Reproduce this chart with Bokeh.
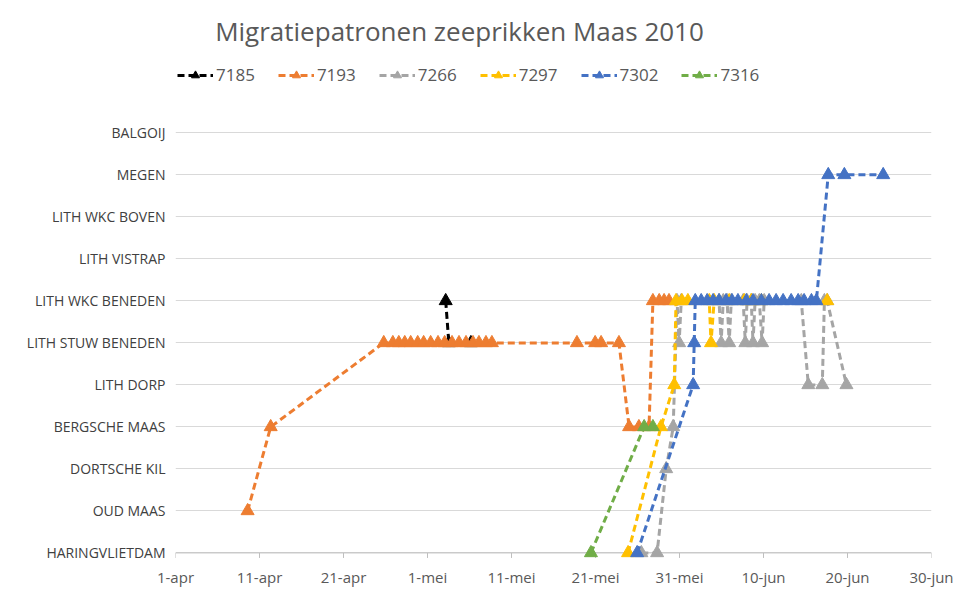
import pandas as pd
from bokeh.plotting import figure
from bokeh.models import Range1d, FixedTicker, Legend, LegendItem, Label, Span
from bokeh.embed import file_html
from bokeh.resources import INLINE

TITLE = "Migratiepatronen zeeprikken Maas 2010"
START = "2010-04-01"

locations = ["HARINGVLIETDAM", "OUD MAAS", "DORTSCHE KIL", "BERGSCHE MAAS",
             "LITH DORP", "LITH STUW BENEDEN", "LITH WKC BENEDEN", "LITH VISTRAP",
             "LITH WKC BOVEN", "MEGEN", "BALGOIJ"]
x_tick_days = [0, 10, 20, 30, 40, 50, 60, 70, 80, 90]
x_tick_labels = ["1-apr", "11-apr", "21-apr", "1-mei", "11-mei", "21-mei",
                 "31-mei", "10-jun", "20-jun", "30-jun"]

t_7185 = ["2010-05-03 04:00", "2010-05-03 13:00", "2010-05-06 04:00"]
y_7185 = [6, 5, 5]

t_7193 = ["2010-04-09 14:00", "2010-04-12 08:00",
          "2010-04-25 19:00", "2010-04-26 21:00", "2010-04-27 14:00", "2010-04-28 07:00",
          "2010-04-29 00:00", "2010-04-29 20:00", "2010-04-30 13:00", "2010-05-01 09:00",
          "2010-05-02 06:00", "2010-05-03 01:00", "2010-05-03 22:00", "2010-05-04 18:00",
          "2010-05-05 14:00", "2010-05-06 10:00", "2010-05-07 03:00", "2010-05-07 23:00",
          "2010-05-08 16:00",
          "2010-05-18 19:00", "2010-05-20 23:00", "2010-05-21 16:00", "2010-05-23 19:00",
          "2010-05-25 00:00", "2010-05-26 04:00", "2010-05-27 09:00",
          "2010-05-27 20:00", "2010-05-28 14:00", "2010-05-29 04:00", "2010-05-29 18:00"]
y_7193 = [1, 3,
          5, 5, 5, 5, 5, 5, 5, 5, 5, 5, 5, 5, 5, 5, 5, 5, 5,
          5, 5, 5, 5,
          3, 3, 3,
          6, 6, 6, 6]

t_7266 = ["2010-05-26 11:00", "2010-05-28 08:00", "2010-05-29 10:00", "2010-05-30 06:00",
          "2010-05-30 17:00", "2010-05-30 23:00", "2010-05-31 05:00",
          "2010-06-04 17:00", "2010-06-04 23:00", "2010-06-05 05:00",
          "2010-06-05 16:00", "2010-06-05 22:00", "2010-06-06 04:00",
          "2010-06-07 14:00", "2010-06-07 20:00", "2010-06-08 01:00",
          "2010-06-08 13:00", "2010-06-08 18:00", "2010-06-09 00:00",
          "2010-06-09 12:00", "2010-06-09 20:00", "2010-06-10 02:00",
          "2010-06-14 12:00", "2010-06-15 08:00", "2010-06-17 00:00",
          "2010-06-17 06:00", "2010-06-17 14:00", "2010-06-19 21:00"]
y_7266 = [0, 0, 2, 3,
          6, 5, 6,
          6, 5, 6,
          6, 5, 6,
          6, 5, 6,
          6, 5, 6,
          6, 5, 6,
          6, 4, 4,
          6, 6, 4]

t_7297 = ["2010-05-24 21:00", "2010-05-28 19:00", "2010-05-30 09:00", "2010-05-30 14:00",
          "2010-05-31 07:00", "2010-06-01 00:00", "2010-06-03 13:00", "2010-06-03 18:00",
          "2010-06-04 03:00", "2010-06-05 22:00", "2010-06-07 17:00", "2010-06-08 13:00",
          "2010-06-09 18:00", "2010-06-17 14:00"]
y_7297 = [0, 3, 4, 6, 6, 6, 6, 5, 6, 6, 6, 6, 6, 6]

t_7302 = ["2010-05-25 23:00", "2010-06-01 15:00", "2010-06-01 18:00", "2010-06-01 21:00",
          "2010-06-02 14:00", "2010-06-03 07:00", "2010-06-04 00:00", "2010-06-04 17:00",
          "2010-06-05 13:00", "2010-06-06 06:00", "2010-06-06 23:00", "2010-06-07 23:00",
          "2010-06-08 18:00", "2010-06-09 18:00", "2010-06-10 16:00", "2010-06-11 12:00",
          "2010-06-12 08:00", "2010-06-13 07:00", "2010-06-14 03:00", "2010-06-14 20:00",
          "2010-06-15 17:00", "2010-06-16 07:00",
          "2010-06-17 17:00", "2010-06-19 15:00", "2010-06-24 06:00"]
y_7302 = [0, 4, 5, 6,
          6, 6, 6, 6, 6, 6, 6, 6, 6, 6, 6, 6, 6, 6, 6, 6, 6, 6,
          9, 9, 9]

t_7316 = ["2010-05-20 11:00", "2010-05-26 19:00", "2010-05-27 20:00"]
y_7316 = [0, 3, 3]

series_names = ["7185", "7193", "7266", "7297", "7302", "7316"]
series_times = [t_7185, t_7193, t_7266, t_7297, t_7302, t_7316]
series_values = [y_7185, y_7193, y_7266, y_7297, y_7302, y_7316]
series_colors = ["#000000", "#ED7D31", "#A5A5A5", "#FFC000", "#4472C4", "#70AD47"]

FONT = "Open Sans"
start = pd.Timestamp(START)


def to_days(times):
    return list((pd.to_datetime(times) - start) / pd.Timedelta(days=1))


# layout (canvas sits at the page's top-left corner)
FRAME_W, FRAME_H = 756, 564
BL, BR, BT, BB = 175, 24, 0, 25
UNIT = 42.08              # px per location step
Y0_PX = 553.4             # pixel row of the first location
y_lo = -(FRAME_H - Y0_PX) / UNIT
y_hi = Y0_PX / UNIT

p = figure(width=BL + FRAME_W + BR, height=BT + FRAME_H + BB,
           output_backend="svg", toolbar_location=None,
           x_range=Range1d(0, 90), y_range=Range1d(y_lo, y_hi),
           min_border_left=BL, min_border_right=BR,
           min_border_top=BT, min_border_bottom=BB)
p.outline_line_color = None
p.background_fill_color = "white"
p.border_fill_color = "white"

# axes
p.xaxis.ticker = FixedTicker(ticks=x_tick_days)
p.xaxis.major_label_overrides = {d: l for d, l in zip(x_tick_days, x_tick_labels)}
p.xaxis.axis_line_color = None
p.xaxis.major_tick_line_color = None
p.xaxis.major_tick_out = 0
p.xaxis.major_tick_in = 0
p.xaxis.minor_tick_line_color = None
p.xaxis.minor_tick_out = 0
p.xaxis.major_label_standoff = 3
p.xaxis.major_label_text_font = FONT
p.xaxis.major_label_text_font_size = "15px"
p.xaxis.major_label_text_color = "#595959"

y_ticks = list(range(len(locations)))
p.yaxis.ticker = FixedTicker(ticks=y_ticks)
p.yaxis.major_label_overrides = {i: n for i, n in zip(y_ticks, locations)}
p.yaxis.axis_line_color = None
p.yaxis.major_tick_line_color = None
p.yaxis.major_tick_out = 0
p.yaxis.major_tick_in = 0
p.yaxis.minor_tick_line_color = None
p.yaxis.minor_tick_out = 0
p.yaxis.major_label_standoff = 10
p.yaxis.major_label_text_font = FONT
p.yaxis.major_label_text_font_size = "14px"
p.yaxis.major_label_text_color = "#404040"

p.xgrid.visible = False
p.ygrid.ticker = FixedTicker(ticks=y_ticks)
p.ygrid.grid_line_color = "#D9D9D9"
p.ygrid.grid_line_width = 1

p.add_layout(Span(location=0, dimension="width", line_color="#BFBFBF",
                  line_width=1, level="underlay"))
p.segment(x0=x_tick_days, x1=x_tick_days, y0=[0] * len(x_tick_days),
          y1=[-0.12] * len(x_tick_days), line_color="#BFBFBF", line_width=1,
          level="underlay")

items = []
for name, times, vals, color in zip(series_names, series_times, series_values, series_colors):
    xs = to_days(times)
    ln = p.line(xs, vals, line_color=color, line_width=3, line_dash="7 4")
    sc = p.scatter(xs, vals, marker="triangle", size=13, fill_color=color,
                   line_color=color)
    items.append(LegendItem(label=name, renderers=[ln, sc]))

legend = Legend(items=items, orientation="horizontal",
                location=(2, FRAME_H - 87),
                glyph_width=36, glyph_height=20, label_standoff=3, spacing=23,
                padding=4, margin=0,
                label_text_font=FONT, label_text_font_size="17px",
                label_text_color="#595959",
                border_line_color=None, background_fill_alpha=0)
p.add_layout(legend, "center")

p.add_layout(Label(x=459 - BL, y=FRAME_H - 31, x_units="screen", y_units="screen",
                   text=TITLE, text_align="center", text_baseline="alphabetic",
                   text_font=FONT, text_font_size="26px", text_color="#595959"))

open("out.html", "w").write(file_html(p, INLINE))
